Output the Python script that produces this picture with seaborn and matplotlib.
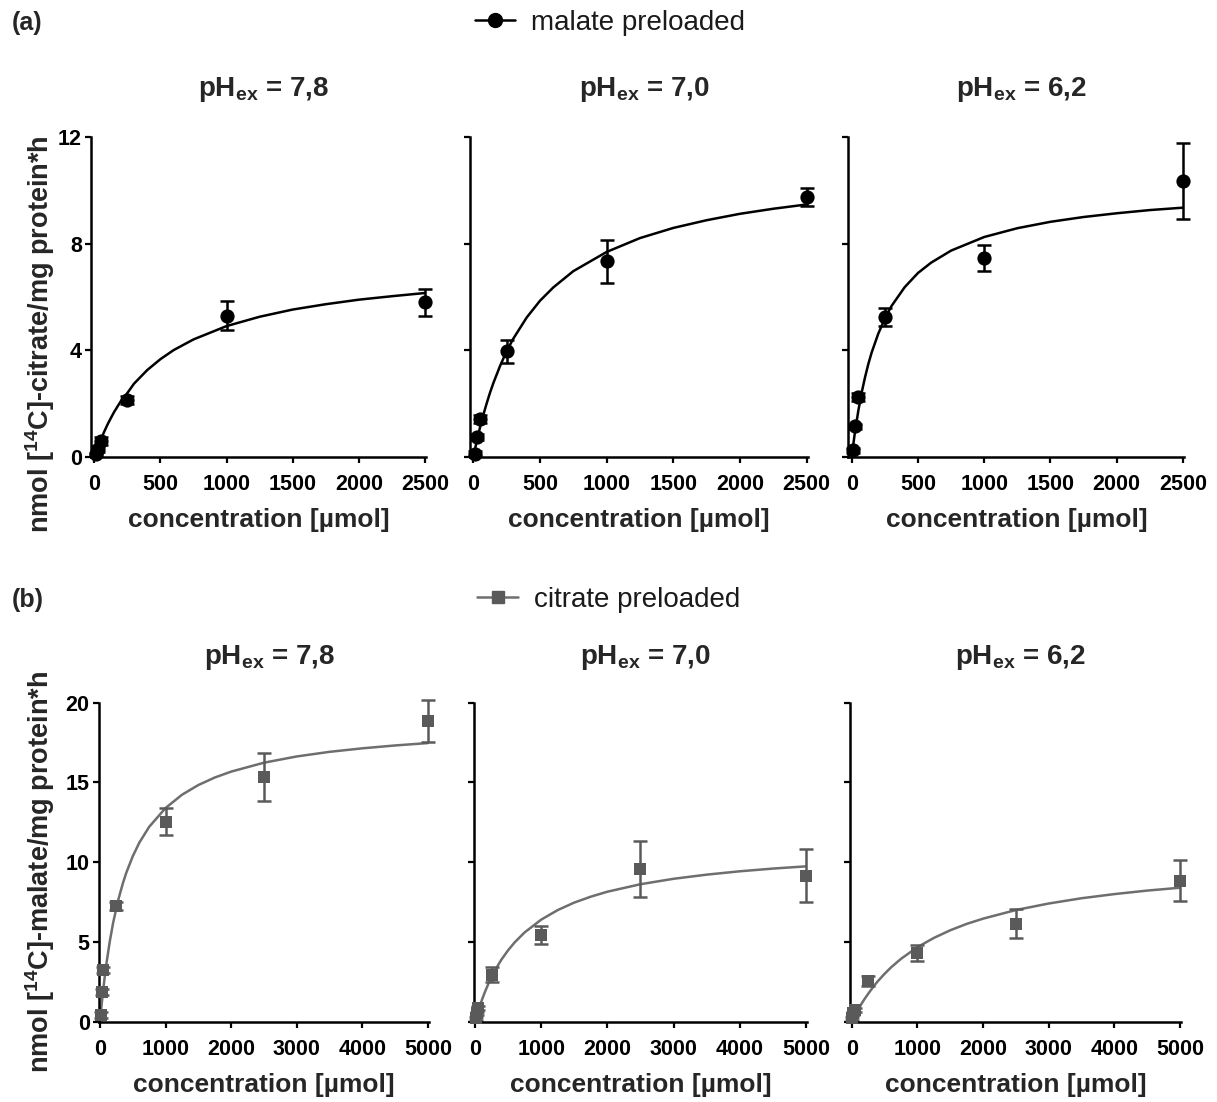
import numpy as np
import pandas as pd
import matplotlib
matplotlib.use('Agg')
import matplotlib.pyplot as plt
import seaborn as sns
from matplotlib.lines import Line2D

# ---------------- data ----------------
ph_labels = ['7,8', '7,0', '6,2']

# (a) malate preloaded, [14C]-citrate uptake
top_x = [10, 25, 50, 250, 1000, 2500]
top_mean_78 = [0.10, 0.30, 0.60, 2.15, 5.30, 5.80]
top_err_78 = [0.05, 0.10, 0.15, 0.15, 0.55, 0.50]
top_mean_70 = [0.12, 0.75, 1.41, 3.96, 7.34, 9.75]
top_err_70 = [0.10, 0.10, 0.15, 0.43, 0.80, 0.32]
top_mean_62 = [0.25, 1.15, 2.25, 5.25, 7.46, 10.34]
top_err_62 = [0.10, 0.10, 0.15, 0.33, 0.50, 1.43]

top_curve_x = [0, 10, 25, 50, 75, 100, 125, 150, 200, 250, 300, 400, 500, 600, 750,
               1000, 1250, 1500, 1750, 2000, 2250, 2500]
top_curve_78 = [0, 0.14, 0.35, 0.66, 0.95, 1.22, 1.46, 1.69, 2.09, 2.40, 2.75, 3.26,
                3.67, 4.01, 4.41, 4.91, 5.26, 5.53, 5.73, 5.90, 6.03, 6.15]
top_curve_70 = [0, 0.24, 0.58, 1.11, 1.58, 2.01, 2.41, 2.77, 3.41, 3.97, 4.44, 5.23,
                5.86, 6.36, 6.97, 7.69, 8.21, 8.59, 8.88, 9.12, 9.31, 9.47]
top_curve_62 = [0, 0.40, 0.95, 1.74, 2.41, 2.98, 3.48, 3.91, 4.62, 5.19, 5.66, 6.37,
                6.90, 7.29, 7.74, 8.25, 8.58, 8.82, 9.00, 9.14, 9.26, 9.35]

# (b) citrate preloaded, [14C]-malate uptake
bot_x = [10, 25, 50, 250, 1000, 2500, 5000]
bot_mean_78 = [0.42, 1.88, 3.24, 7.25, 12.54, 15.35, 18.85]
bot_err_78 = [0.20, 0.20, 0.20, 0.25, 0.85, 1.50, 1.33]
bot_mean_70 = [0.21, 0.52, 0.86, 2.95, 5.45, 9.55, 9.15]
bot_err_70 = [0.10, 0.10, 0.15, 0.45, 0.55, 1.75, 1.65]
bot_mean_62 = [0.21, 0.52, 0.73, 2.55, 4.30, 6.15, 8.85]
bot_err_62 = [0.10, 0.10, 0.15, 0.30, 0.52, 0.92, 1.30]

bot_curve_x = [0, 10, 25, 50, 75, 100, 150, 200, 275, 350, 400, 500, 600, 750, 1000,
               1250, 1500, 1750, 2000, 2500, 3000, 3500, 4000, 4500, 5000]
bot_curve_78 = [0, 0.45, 1.09, 2.05, 2.92, 3.71, 5.06, 6.20, 7.59, 8.70, 9.33, 10.38,
                11.23, 12.22, 13.40, 14.23, 14.84, 15.31, 15.68, 16.24, 16.63, 16.92,
                17.14, 17.32, 17.47]
bot_curve_70 = [0, 0.15, 0.36, 0.70, 1.02, 1.32, 1.87, 2.36, 3.00, 3.56, 3.90, 4.48,
                4.98, 5.60, 6.40, 7.00, 7.47, 7.84, 8.15, 8.62, 8.96, 9.22, 9.43, 9.60,
                9.74]
bot_curve_62 = [0, 0.08, 0.21, 0.40, 0.59, 0.78, 1.13, 1.45, 1.89, 2.30, 2.55, 3.00,
                3.41, 3.94, 4.67, 5.25, 5.73, 6.13, 6.46, 7.00, 7.41, 7.74, 8.00, 8.22,
                8.40]

top_yticks = [0, 4, 8, 12]
top_xticks = [0, 500, 1000, 1500, 2000, 2500]
bot_yticks = [0, 5, 10, 15, 20]
bot_xticks = [0, 1000, 2000, 3000, 4000, 5000]

# ---------------- style ----------------
sns.set_style('ticks')
plt.rcParams['font.family'] = ['Liberation Sans', 'DejaVu Sans']
plt.rcParams['mathtext.fontset'] = 'custom'
plt.rcParams['mathtext.rm'] = 'Liberation Sans'
plt.rcParams['mathtext.bf'] = 'Liberation Sans:bold'
plt.rcParams['mathtext.it'] = 'Liberation Sans:italic'

W, H = 1217, 1102
fig = plt.figure(figsize=(W / 100, H / 100), dpi=100)


def px_axes(x0, x1, ytop, ybot):
    return fig.add_axes([x0 / W, 1 - ybot / H, (x1 - x0) / W, (ybot - ytop) / H])


top_color = 'black'
bot_mark = '#5a5a5a'
bot_line = '#6e6e6e'

top_axes = [px_axes(91, 426.4, 137, 457),
            px_axes(470, 808, 137, 457),
            px_axes(848.4, 1184.3, 137, 457)]
bot_axes = [px_axes(98.7, 429.3, 702.7, 1021.7),
            px_axes(473.7, 807.3, 702.7, 1021.7),
            px_axes(850.4, 1181.3, 702.7, 1021.7)]

top_means = [top_mean_78, top_mean_70, top_mean_62]
top_errs = [top_err_78, top_err_70, top_err_62]
top_curves = [top_curve_78, top_curve_70, top_curve_62]
bot_means = [bot_mean_78, bot_mean_70, bot_mean_62]
bot_errs = [bot_err_78, bot_err_70, bot_err_62]
bot_curves = [bot_curve_78, bot_curve_70, bot_curve_62]


def style_axis(ax, xlim, ylim, xticks, yticks, show_ylabels):
    ax.set_xlim(*xlim)
    ax.set_ylim(*ylim)
    ax.set_xticks(xticks)
    ax.set_yticks(yticks)
    sns.despine(ax=ax)
    for s in ['left', 'bottom']:
        ax.spines[s].set_linewidth(1.8)
        ax.spines[s].set_color('black')
    ax.tick_params(axis='both', direction='out', length=4.5, width=1.6,
                   colors='black', labelsize=15.5)
    ax.tick_params(axis='x', pad=8)
    ax.tick_params(axis='y', pad=2)
    for lab in ax.get_xticklabels() + ax.get_yticklabels():
        lab.set_fontweight('bold')
    if not show_ylabels:
        ax.set_yticklabels([])
    ax.set_xlabel('concentration [µmol]', fontsize=19, fontweight='bold', labelpad=9)
    ax.set_ylabel('')
    ax.grid(False)


for i, ax in enumerate(top_axes):
    sns.lineplot(x=top_curve_x, y=top_curves[i], ax=ax, color=top_color, lw=1.8)
    ax.errorbar(top_x, top_means[i], yerr=top_errs[i], fmt='none', ecolor=top_color,
                elinewidth=1.8, capsize=5, capthick=1.8, clip_on=False)
    sns.scatterplot(x=top_x, y=top_means[i], ax=ax, color=top_color, marker='o',
                    s=105, linewidth=0, clip_on=False, zorder=5)
    style_axis(ax, (-25, 2510), (0, 12), top_xticks, top_yticks, i == 0)
    cx = (ax.get_position().x0 + ax.get_position().x1) / 2
    fig.text(cx + 5 / W, 1 - 90 / H, 'pH$_{\\mathbf{ex}}$ = ' + ph_labels[i],
             ha='center', va='center', fontsize=20, fontweight='bold')

for i, ax in enumerate(bot_axes):
    sns.lineplot(x=bot_curve_x, y=bot_curves[i], ax=ax, color=bot_line, lw=1.8)
    ax.errorbar(bot_x, bot_means[i], yerr=bot_errs[i], fmt='none', ecolor=bot_mark,
                elinewidth=1.8, capsize=5, capthick=1.8, clip_on=False)
    sns.scatterplot(x=bot_x, y=bot_means[i], ax=ax, color=bot_mark, marker='s',
                    s=75, linewidth=0, clip_on=False, zorder=5)
    style_axis(ax, (-20, 5020), (0, 20), bot_xticks, bot_yticks, i == 0)
    cx = (ax.get_position().x0 + ax.get_position().x1) / 2
    fig.text(cx + 5 / W, 1 - 658 / H, 'pH$_{\\mathbf{ex}}$ = ' + ph_labels[i],
             ha='center', va='center', fontsize=20, fontweight='bold')

# y-axis labels
fig.text(40 / W, 1 - 334 / H, 'nmol [$^{\\mathbf{14}}$C]-citrate/mg protein*h',
         rotation=90, ha='center', va='center', fontsize=19.5, fontweight='bold')
fig.text(40 / W, 1 - 872 / H, 'nmol [$^{\\mathbf{14}}$C]-malate/mg protein*h',
         rotation=90, ha='center', va='center', fontsize=19.5, fontweight='bold')

# panel letters
fig.text(12 / W, 1 - 23 / H, '(a)', ha='left', va='center', fontsize=18, fontweight='bold')
fig.text(12 / W, 1 - 600 / H, '(b)', ha='left', va='center', fontsize=18, fontweight='bold')

# legends
h_top = Line2D([0], [0], color=top_color, lw=1.8, marker='o', markersize=10)
h_bot = Line2D([0], [0], color=bot_line, lw=1.8, marker='s', markersize=8.5,
               markerfacecolor=bot_mark, markeredgecolor=bot_mark)
fig.legend(handles=[h_top], labels=['malate preloaded'], loc='center',
           bbox_to_anchor=(610 / W, 1 - 23 / H), frameon=False, fontsize=20,
           handlelength=1.45, handletextpad=0.6, labelcolor='#1a1a1a')
fig.legend(handles=[h_bot], labels=['citrate preloaded'], loc='center',
           bbox_to_anchor=(609 / W, 1 - 600 / H), frameon=False, fontsize=20,
           handlelength=1.45, handletextpad=0.6, labelcolor='#1a1a1a')

fig.savefig('out.png', dpi=100)
